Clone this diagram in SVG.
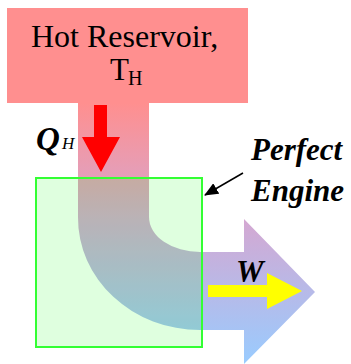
<svg xmlns="http://www.w3.org/2000/svg" width="351" height="364" viewBox="0 0 351 364">
  <defs>
    <linearGradient id="flowGrad" gradientUnits="userSpaceOnUse" x1="0" y1="103" x2="0" y2="364">
      <stop offset="0" stop-color="#FF8F8F"/>
      <stop offset="0.45" stop-color="#D4A8D2"/>
      <stop offset="1" stop-color="#99CCFF"/>
    </linearGradient>
    <marker id="blackHead" viewBox="0 0 14 12" refX="13" refY="6" markerWidth="14" markerHeight="12" markerUnits="userSpaceOnUse" orient="auto">
      <path d="M0,0 L14,6 L0,12 Z" fill="#000"/>
    </marker>
  </defs>
  <style>
    text { font-family: 'Liberation Serif', 'DejaVu Serif', serif; fill: #000; }
    .it { font-style: italic; font-weight: bold; }
  </style>
  <rect width="351" height="364" fill="#FFFFFF"/>

  <g id="heat-flow">
    <path d="M78,103 L78,217 A122,112 0 0 0 200,330 L244,330 L244,364 L315,292 L244,219 L244,252 L200,252 A51,35 0 0 1 149,217 L149,103 Z" fill="url(#flowGrad)"/>
  </g>

  <g id="hot-reservoir">
    <rect x="7" y="8" width="241" height="95" fill="#FF8F8F"/>
    <text x="31" y="47" font-size="32">Hot Reservoir,</text>
    <text x="110" y="80" font-size="31">T</text>
    <text x="128" y="85" font-size="20">H</text>
  </g>

  <g id="engine">
    <rect x="36" y="178" width="166" height="169" fill="#00FF00" fill-opacity="0.125" stroke="#33FF33" stroke-width="2"/>
  </g>

  <g id="qh-arrow">
    <path d="M94,105 L107,105 L107,137 L120,137 L101,172 L82,137 L94,137 Z" fill="#FF0000"/>
    <text class="it" x="36" y="150" font-size="33">Q</text>
    <text x="62" y="149" font-size="17" font-style="italic">H</text>
  </g>

  <g id="w-arrow">
    <path d="M208,285 L267,285 L267,273 L302,291 L267,309 L267,297 L208,297 Z" fill="#FFFF00"/>
    <text class="it" x="236" y="282" font-size="31">W</text>
  </g>

  <g id="engine-label">
    <text class="it" x="251" y="160" font-size="31">Perfect</text>
    <text class="it" x="251" y="201" font-size="31">Engine</text>
  </g>

  <g id="connectors">
    <line x1="243" y1="173" x2="205" y2="195" stroke="#000" stroke-width="1.5" marker-end="url(#blackHead)"/>
  </g>
</svg>
